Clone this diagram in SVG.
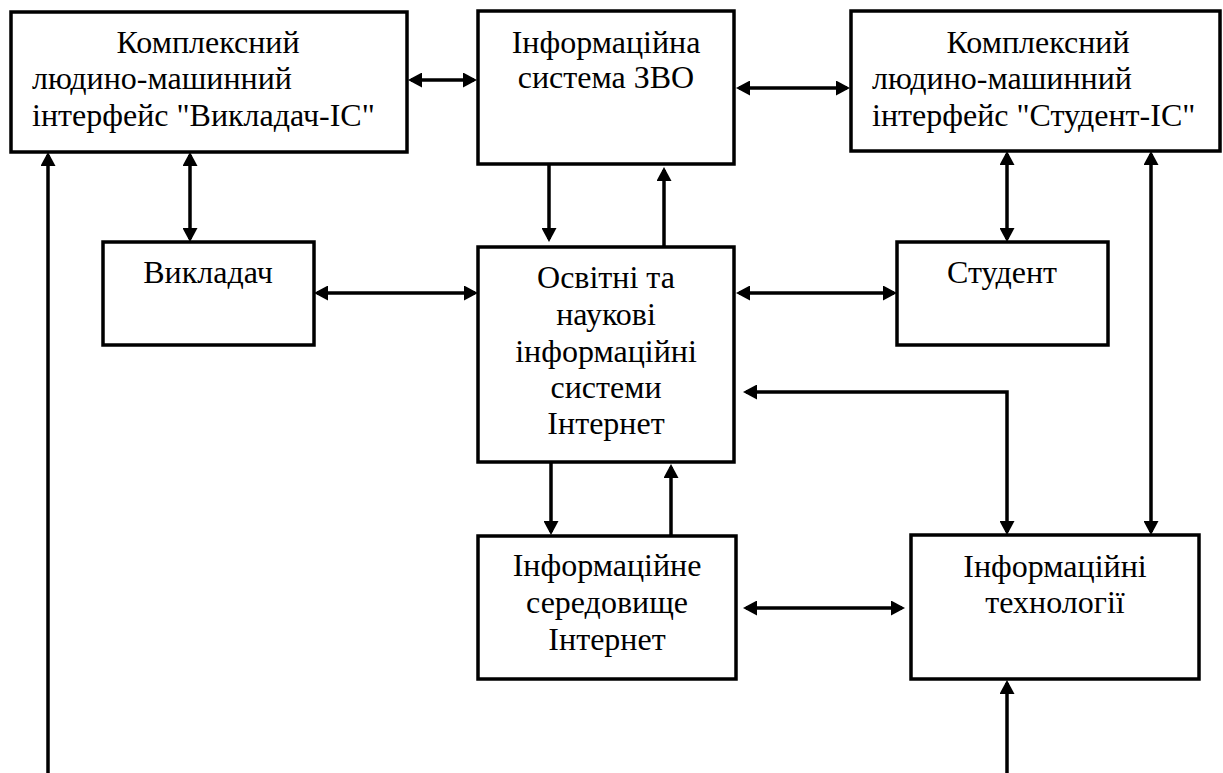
<svg xmlns="http://www.w3.org/2000/svg" width="1223" height="773" viewBox="0 0 1223 773">
<style>
.box{fill:#fff;stroke:#000;stroke-width:3.5}
.t{font-family:'Liberation Serif','DejaVu Serif',serif;font-size:32px;fill:#000}
.c{text-anchor:middle}
.ln{fill:none;stroke:#000;stroke-width:3.5}
</style>
<defs>
<marker id="ah" viewBox="0 0 14 15" refX="11" refY="7.5" markerWidth="14" markerHeight="15" markerUnits="userSpaceOnUse" orient="auto-start-reverse">
<path d="M0,0 L14,7.5 L0,15 z" fill="#000"/>
</marker>
</defs>
<rect width="1223" height="773" fill="#fff"/>
<g id="n-vikladach-is" font-family="Liberation Serif, serif">
<rect class="box" x="11" y="12" width="396" height="140"/>
<text class="t c" x="208" y="53">Комплексний</text>
<text class="t" x="32" y="89">людино-машинний</text>
<text class="t" x="32" y="126">інтерфейс "Викладач-ІС"</text>
</g>
<g id="n-is-zvo">
<rect class="box" x="478" y="11" width="256" height="153"/>
<text class="t c" x="606" y="53">Інформаційна</text>
<text class="t c" x="606" y="88">система ЗВО</text>
</g>
<g id="n-student-is">
<rect class="box" x="851" y="11" width="369" height="140"/>
<text class="t c" x="1038" y="53">Комплексний</text>
<text class="t" x="872" y="89">людино-машинний</text>
<text class="t" x="872" y="126">інтерфейс "Студент-ІС"</text>
</g>
<g id="n-vikladach">
<rect class="box" x="103" y="242" width="211" height="103"/>
<text class="t c" x="208" y="283">Викладач</text>
</g>
<g id="n-osvitni">
<rect class="box" x="478" y="247" width="256" height="215"/>
<text class="t c" x="606" y="288">Освітні та</text>
<text class="t c" x="606" y="325">наукові</text>
<text class="t c" x="606" y="362">інформаційні</text>
<text class="t c" x="606" y="398">системи</text>
<text class="t c" x="606" y="434">Інтернет</text>
</g>
<g id="n-student">
<rect class="box" x="897" y="242" width="211" height="103"/>
<text class="t c" x="1002" y="283">Студент</text>
</g>
<g id="n-seredovyshche">
<rect class="box" x="478" y="536" width="258" height="143"/>
<text class="t c" x="607" y="576">Інформаційне</text>
<text class="t c" x="607" y="613">середовище</text>
<text class="t c" x="607" y="650">Інтернет</text>
</g>
<g id="n-tekhnolohii">
<rect class="box" x="911" y="535" width="288" height="144"/>
<text class="t c" x="1055" y="577">Інформаційні</text>
<text class="t c" x="1055" y="613">технології</text>
</g>
<g id="connectors">
<path class="ln" d="M411,80 H474" marker-start="url(#ah)" marker-end="url(#ah)"/>
<path class="ln" d="M739,88 H847" marker-start="url(#ah)" marker-end="url(#ah)"/>
<path class="ln" d="M549,164 V239" marker-end="url(#ah)"/>
<path class="ln" d="M664,247 V170" marker-end="url(#ah)"/>
<path class="ln" d="M190,155 V239" marker-start="url(#ah)" marker-end="url(#ah)"/>
<path class="ln" d="M1007,154 V239" marker-start="url(#ah)" marker-end="url(#ah)"/>
<path class="ln" d="M317,293 H475" marker-start="url(#ah)" marker-end="url(#ah)"/>
<path class="ln" d="M739,293 H894" marker-start="url(#ah)" marker-end="url(#ah)"/>
<path class="ln" d="M746,392 H1007 V532" marker-start="url(#ah)" marker-end="url(#ah)"/>
<path class="ln" d="M1151,154 V532" marker-start="url(#ah)" marker-end="url(#ah)"/>
<path class="ln" d="M551,462 V532" marker-end="url(#ah)"/>
<path class="ln" d="M671,536 V467" marker-end="url(#ah)"/>
<path class="ln" d="M746,608 H902" marker-start="url(#ah)" marker-end="url(#ah)"/>
<path class="ln" d="M1007,773 V683" marker-end="url(#ah)"/>
<path class="ln" d="M48,773 V155" marker-end="url(#ah)"/>
</g>
</svg>
